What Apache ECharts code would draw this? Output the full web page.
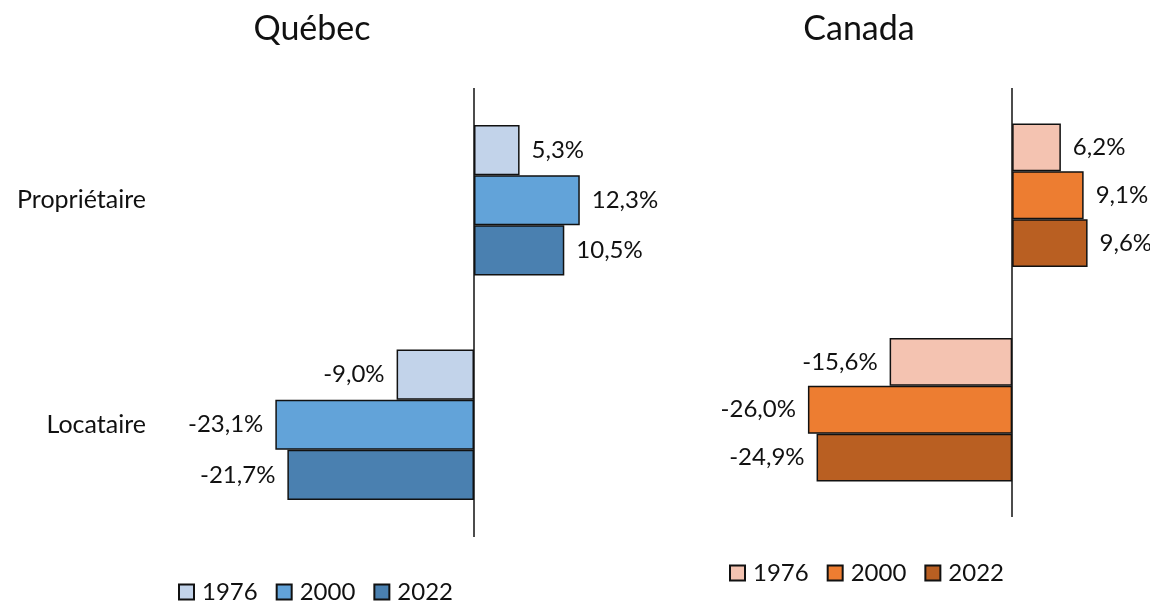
<!DOCTYPE html>
<html>
<head>
<meta charset="utf-8">
<script src="https://cdn.jsdelivr.net/npm/echarts@6/dist/echarts.min.js"></script>
<style>
  html, body { margin: 0; padding: 0; background: #fff; }
  #chart { width: 1150px; height: 603px; }
</style>
</head>
<body>
<div id="chart"></div>
<script>
  // catégories et années
  const categories = ['Propriétaire', 'Locataire']
  const years = ['1976', '2000', '2022']

  // variations en %, une liste par année (Propriétaire, Locataire)
  const quebec1976 = [5.3, -9.0]
  const quebec2000 = [12.3, -23.1]
  const quebec2022 = [10.5, -21.7]
  const canada1976 = [6.2, -15.6]
  const canada2000 = [9.1, -26.0]
  const canada2022 = [9.6, -24.9]

  const quebecColors = ['#c2d3ea', '#62a3d9', '#4a80b0']
  const canadaColors = ['#f4c3b1', '#ed7d31', '#b95f22']

  const font = 'Lato'

  function fmt (v) {
    return v.toFixed(1).replace('.', ',') + '%'
  }

  function bars (region, values, color, idx, withLine) {
    const s = {
      name: region + ' ' + years[idx],
      type: 'bar',
      xAxisIndex: region === 'Québec' ? 0 : 1,
      yAxisIndex: region === 'Québec' ? 0 : 1,
      barGap: '0%',
      barCategoryGap: '33%',
      itemStyle: { color: color, borderColor: '#111', borderWidth: 1.5 },
      data: values.map(v => ({
        value: v,
        label: { position: v < 0 ? 'left' : 'right' }
      })),
      label: {
        show: true,
        distance: 12,
        fontFamily: font,
        fontSize: 24,
        color: '#111',
        formatter: p => fmt(p.value)
      }
    }
    // trait vertical du zéro
    if (withLine) {
      s.markLine = {
        silent: true,
        symbol: 'none',
        label: { show: false },
        lineStyle: { color: '#111', width: 1.5, type: 'solid' },
        data: [{ xAxis: 0 }]
      }
    }
    return s
  }

  const legendText = { fontFamily: font, fontSize: 24, color: '#111', padding: [0, 0, 0, 3] }

  const myChart = echarts.init(document.getElementById('chart'))
  const option = {
    backgroundColor: '#fff',
    animation: false,
    title: [
      { text: 'Québec', left: 307, top: 7, textAlign: 'center',
        textStyle: { fontFamily: font, fontSize: 34, fontWeight: 'normal', color: '#111' } },
      { text: 'Canada', left: 854, top: 7, textAlign: 'center',
        textStyle: { fontFamily: font, fontSize: 34, fontWeight: 'normal', color: '#111' } }
    ],
    legend: [
      {
        left: 173, top: 575,
        icon: 'rect', itemWidth: 15, itemHeight: 15, itemGap: 18,
        data: years.map(y => 'Québec ' + y),
        formatter: n => n.split(' ')[1],
        textStyle: legendText
      },
      {
        left: 724, top: 556,
        icon: 'rect', itemWidth: 15, itemHeight: 15, itemGap: 18,
        data: years.map(y => 'Canada ' + y),
        formatter: n => n.split(' ')[1],
        textStyle: legendText
      }
    ],
    grid: [
      { left: 173, right: 504, top: 88, bottom: 66 },
      { left: 776.5, right: 20, top: 88, bottom: 86 }
    ],
    xAxis: [
      { type: 'value', gridIndex: 0, min: -35, max: 20, show: false },
      { type: 'value', gridIndex: 1, min: -30, max: 15, show: false }
    ],
    yAxis: [
      {
        type: 'category', gridIndex: 0, inverse: true, data: categories,
        axisLine: { show: false }, axisTick: { show: false },
        axisLabel: { margin: 27, fontFamily: font, fontSize: 25, color: '#111' }
      },
      {
        type: 'category', gridIndex: 1, inverse: true, data: categories,
        axisLine: { show: false }, axisTick: { show: false },
        axisLabel: { show: false }
      }
    ],
    series: [
      bars('Québec', quebec1976, quebecColors[0], 0, true),
      bars('Québec', quebec2000, quebecColors[1], 1, false),
      bars('Québec', quebec2022, quebecColors[2], 2, false),
      bars('Canada', canada1976, canadaColors[0], 0, true),
      bars('Canada', canada2000, canadaColors[1], 1, false),
      bars('Canada', canada2022, canadaColors[2], 2, false)
    ]
  }
  myChart.setOption(option)
</script>
</body>
</html>
